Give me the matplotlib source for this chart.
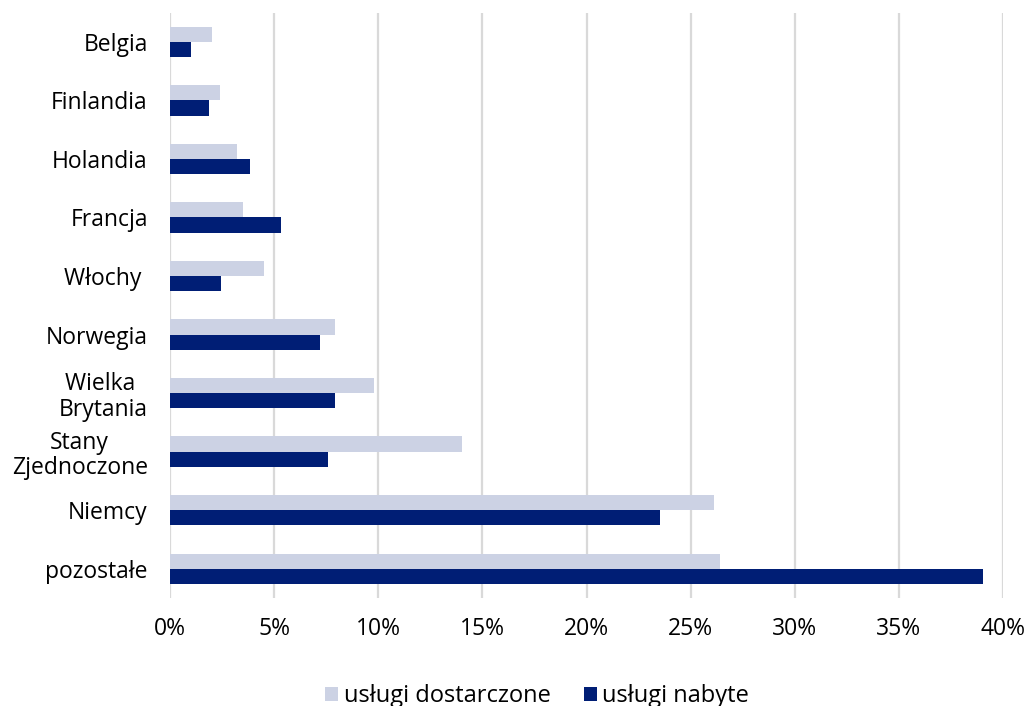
import matplotlib
matplotlib.use("Agg")
import matplotlib.pyplot as plt
import numpy as np
from matplotlib.ticker import FuncFormatter

plt.rcParams['font.family'] = ['Open Sans', 'DejaVu Sans']

categories = ["Belgia", "Finlandia", "Holandia", "Francja", "Włochy ",
              "Norwegia", "Wielka \nBrytania", "Stany\nZjednoczone", "Niemcy", "pozostałe"]
dostarczone = [2.0, 2.4, 3.2, 3.5, 4.5, 7.9, 9.8, 14.0, 26.1, 26.4]
nabyte = [1.0, 1.85, 3.85, 5.35, 2.45, 7.2, 7.9, 7.6, 23.55, 39.05]
series_names = ["usługi dostarczone", "usługi nabyte"]
xticks = [0, 5, 10, 15, 20, 25, 30, 35, 40]

light = "#CCD2E4"
dark = "#001E75"
fs = 16.5

fig = plt.figure(figsize=(10.28, 7.06), dpi=100)
ax = fig.add_axes([170/1028, 1-598/706, (1003-170)/1028, (598-12.5)/706])

y = np.arange(len(categories))
h = 0.26
ax.barh(y - h/2, dostarczone, height=h, color=light, label=series_names[0], zorder=3)
ax.barh(y + h/2, nabyte, height=h, color=dark, label=series_names[1], zorder=3)

ax.set_ylim(len(categories) - 0.5, -0.5)
ax.set_xlim(0, 40)
ax.set_yticks(y)
ax.set_yticklabels(categories, fontsize=fs, multialignment='center', linespacing=1.1)
ax.set_xticks(xticks)
ax.xaxis.set_major_formatter(FuncFormatter(lambda v, p: f"{v:.0f}%"))
ax.tick_params(axis='x', labelsize=fs, length=0, pad=14)
ax.tick_params(axis='y', length=0, pad=16)
ax.grid(axis='x', color="#D9D9D9", linewidth=1.6, zorder=0)
for s in ax.spines.values():
    s.set_visible(False)

fig.legend(loc='center', bbox_to_anchor=(537/1028, 1-696/706), ncol=2, frameon=False,
           fontsize=17, handlelength=0.55, handleheight=0.55, handletextpad=0.25,
           columnspacing=1.4, borderpad=0)

fig.savefig("out.png", dpi=100)
